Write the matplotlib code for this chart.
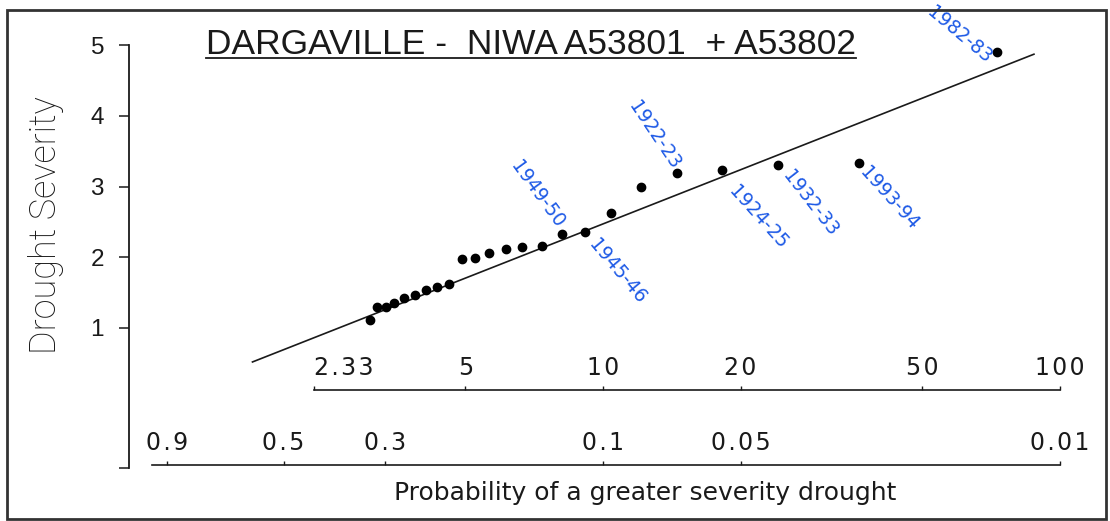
import numpy as np
import matplotlib
matplotlib.use("Agg")
import matplotlib.pyplot as plt
from matplotlib.lines import Line2D
from matplotlib.patches import Rectangle

# ranked droughts: return period (years) and drought severity
return_period = [3.09, 3.20, 3.35, 3.49, 3.67, 3.88, 4.10, 4.33, 4.60,
                 4.91, 5.25, 5.63, 6.13, 6.65, 7.35, 8.13, 9.13, 10.4,
                 12.1, 14.5, 18.2, 24.2, 36.3, 72.8]
severity = [1.11, 1.30, 1.30, 1.35, 1.42, 1.47, 1.54, 1.58, 1.62,
            1.98, 1.99, 2.06, 2.12, 2.14, 2.16, 2.33, 2.36, 2.63,
            2.99, 3.19, 3.23, 3.30, 3.33, 4.90]

# fitted line (end points)
fit_period = [1.71, 87.7]
fit_severity = [0.52, 4.87]

# hand written year labels and the point they belong to
year_labels = ["1949-50", "1945-46", "1922-23", "1924-25", "1932-33", "1993-94", "1982-83"]
year_points = [15, 16, 19, 20, 21, 22, 23]

# axis ticks
severity_ticks = [1, 2, 3, 4, 5]
period_ticks = [2.33, 5, 10, 20, 50, 100]
period_labels = ["2.33", "5", "10", "20", "50", "100"]
prob_ticks = [0.9, 0.5, 0.3, 0.1, 0.05, 0.01]
prob_labels = ["0.9", "0.5", "0.3", "0.1", "0.05", "0.01"]

# label placement (offset in pixels, rotation)
label_style = [(-25, 40, -54), (32, -40, -50), (-22, 38, -56), (36, -47, -48),
               (32, -38, -52), (30, -35, -48), (-38, 17, -40)]

W, H = 1110, 521
BLUE = "#1e5ae6"
INK = "#1a1a1a"


def fx(px):
    return px / W


def fy(py):
    return 1 - py / H


def track(s):
    # wide letter spacing like the original typewriter labels
    return "\u200a".join(s)


# pixel layout: log10(T) -> x px, severity -> y px
px_T1, px_decade = 146, 457
ax_left, ax_right = 129, 1060
py_top, py_bottom, px_per_unit = 45, 468, 70.75
t_left = 10 ** ((ax_left - px_T1) / px_decade)
t_right = 10 ** ((ax_right - px_T1) / px_decade)
y_bottom = 5 - (py_bottom - py_top) / px_per_unit

fig = plt.figure(figsize=(W / 100, H / 100), dpi=100)
fig.patch.set_facecolor("white")

ax = fig.add_axes([fx(ax_left), fy(py_bottom), (ax_right - ax_left) / W, (py_bottom - py_top) / H])
ax.set_facecolor("none")
ax.set_xscale("log")
ax.set_xlim(t_left, t_right)
ax.set_ylim(y_bottom, 5.0)
for side in ["top", "right", "bottom"]:
    ax.spines[side].set_visible(False)
ax.spines["left"].set_linewidth(1.3)
ax.spines["left"].set_color(INK)
ax.set_xticks([])
ax.xaxis.set_minor_locator(matplotlib.ticker.NullLocator())
ax.set_yticks([y_bottom] + severity_ticks)
ax.set_yticklabels([""] + [str(v) for v in severity_ticks], family="Liberation Sans", fontsize=17.5)
ax.tick_params(axis="y", direction="out", length=7, width=1.1, pad=11, colors=INK)

ax.plot(fit_period, fit_severity, color=INK, lw=1.2, zorder=2)
ax.plot(return_period, severity, "o", color="black", ms=6, zorder=3)

for lab, idx, (dx, dy, rot) in zip(year_labels, year_points, label_style):
    ax.annotate(lab, (return_period[idx], severity[idx]), xytext=(dx, dy),
                textcoords="offset pixels", ha="center", va="center", rotation=rot,
                color=BLUE, fontsize=13.5, family="DejaVu Sans", annotation_clip=False)


def make_scale_axis(py, lim, ticks, labels, bounds):
    sa = fig.add_axes([fx(ax_left), fy(py), (ax_right - ax_left) / W, 0.0001])
    sa.set_facecolor("none")
    sa.set_xscale("log")
    sa.set_xlim(*lim)
    sa.set_yticks([])
    for side in ["bottom", "left", "right"]:
        sa.spines[side].set_visible(False)
    sa.spines["top"].set_bounds(*bounds)
    sa.spines["top"].set_linewidth(1.2)
    sa.spines["top"].set_color(INK)
    sa.xaxis.set_ticks_position("top")
    sa.xaxis.set_label_position("top")
    sa.set_xticks(ticks)
    sa.set_xticklabels([track(s) for s in labels], family="DejaVu Sans", fontsize=17)
    sa.xaxis.set_minor_locator(matplotlib.ticker.NullLocator())
    sa.tick_params(axis="x", direction="out", length=3, width=1, pad=4, colors=INK)
    return sa


upper = make_scale_axis(390, (t_left, t_right), period_ticks, period_labels, (2.33, 100))
# the first return period label sits to the right of its tick
upper.get_xticklabels()[0].set_horizontalalignment("left")
p_start = 1 / 10 ** ((152 - px_T1) / px_decade)
make_scale_axis(465, (1 / t_left, 1 / t_right), prob_ticks, prob_labels, (0.01, p_start))

fig.text(fx(645), fy(493), "Probability of a greater severity drought", ha="center", va="center",
         family="DejaVu Sans", fontsize=18, color=INK)
fig.text(fx(46), fy(225), "Drought Severity", rotation=90, ha="center", va="center",
         family="Roboto", weight="light", fontsize=26, color=INK)

title = fig.text(fx(531), fy(54), "DARGAVILLE -  NIWA A53801  + A53802", ha="center", va="baseline",
                 family="Liberation Sans", fontsize=25.5, color=INK)

# underline the title
fig.canvas.draw()
bb = title.get_window_extent()
fig.add_artist(Line2D([bb.x0 / W, bb.x1 / W], [fy(58), fy(58)], transform=fig.transFigure,
                      color=INK, lw=1.3))

# frame around the whole figure
fig.add_artist(Rectangle((fx(7), fy(519)), (1106 - 7) / W, (519 - 10) / H, transform=fig.transFigure,
                         fill=False, edgecolor="#333333", lw=2))

fig.savefig("out.png", dpi=100, facecolor="white")
